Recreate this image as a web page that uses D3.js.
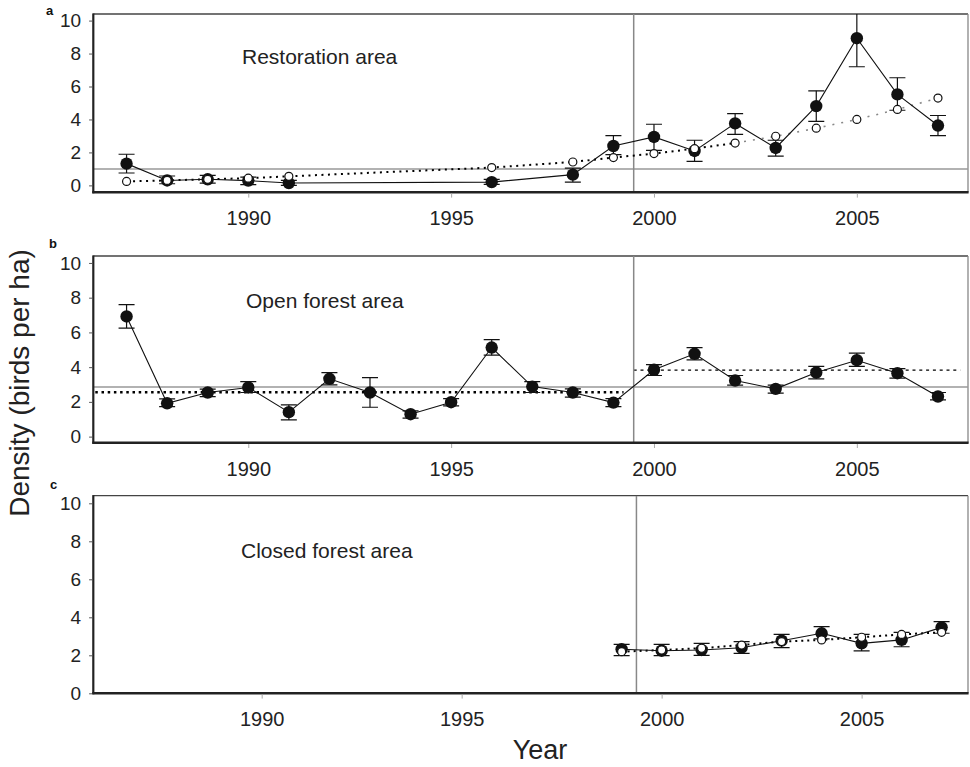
<!DOCTYPE html>
<html>
<head>
<meta charset="utf-8">
<script src="https://cdn.jsdelivr.net/npm/d3@7"></script>
<style>
  html, body { margin: 0; padding: 0; background: #fff; }
  svg { display: block; font-family: "Liberation Sans", Arial, sans-serif; }
</style>
</head>
<body>
<svg id="chart" width="970" height="767"></svg>
<script>
// ---------------- DATA ----------------
const yTickValues = [0, 2, 4, 6, 8, 10];
const xTickValues = [1990, 1995, 2000, 2005];
const panelTitles = ["Restoration area", "Open forest area", "Closed forest area"];
const panelLetters = ["a", "b", "c"];
const yAxisTitle = "Density (birds per ha)";
const xAxisTitle = "Year";
const restorationStartYear = 1999.5;

// Panel a – restoration area
const aYears = [1987, 1988, 1989, 1990, 1991, 1996, 1998, 1999, 2000, 2001, 2002, 2003, 2004, 2005, 2006, 2007];
const aMean  = [1.32, 0.30, 0.37, 0.29, 0.14, 0.20, 0.65, 2.39, 2.94, 2.09, 3.76, 2.27, 4.81, 8.93, 5.52, 3.63];
const aLow   = [0.75, 0.10, 0.14, 0.04, 0.00, 0.06, 0.20, 1.87, 2.13, 1.46, 3.10, 1.78, 3.88, 7.20, 4.56, 3.02];
const aHigh  = [1.89, 0.57, 0.61, 0.50, 0.30, 0.37, 1.05, 3.02, 3.71, 2.74, 4.36, 2.74, 5.74, 10.66, 6.53, 4.24];
const aFit   = [0.24, 0.30, 0.37, 0.44, 0.55, 1.08, 1.42, 1.69, 1.93, 2.23, 2.57, 2.98, 3.47, 4.00, 4.61, 5.30];
const aRefLine = 1.0;
const aFitSplitYear = 2002;

// Panel b – open forest area
const bYears = [1987, 1988, 1989, 1990, 1991, 1992, 1993, 1994, 1995, 1996, 1997, 1998, 1999, 2000, 2001, 2002, 2003, 2004, 2005, 2006, 2007];
const bMean  = [6.92, 1.92, 2.54, 2.83, 1.41, 3.33, 2.54, 1.29, 1.98, 5.13, 2.88, 2.54, 1.96, 3.85, 4.77, 3.23, 2.75, 3.69, 4.40, 3.65, 2.31];
const bLow   = [6.25, 1.73, 2.30, 2.54, 0.96, 2.98, 1.69, 1.06, 1.77, 4.69, 2.54, 2.27, 1.73, 3.52, 4.42, 2.96, 2.50, 3.33, 4.04, 3.37, 2.12];
const bHigh  = [7.60, 2.17, 2.74, 3.17, 1.83, 3.69, 3.40, 1.48, 2.19, 5.58, 3.17, 2.75, 2.19, 4.15, 5.13, 3.52, 2.96, 4.04, 4.81, 3.92, 2.54];
const bRefLine = 2.85;
const bPreMean = 2.55;
const bPostMean = 3.83;

// Panel c – closed forest area
const cYears = [1999, 2000, 2001, 2002, 2003, 2004, 2005, 2006, 2007];
const cMean  = [2.32, 2.24, 2.28, 2.40, 2.77, 3.16, 2.63, 2.81, 3.47];
const cLow   = [1.98, 1.98, 2.00, 2.10, 2.40, 2.86, 2.23, 2.45, 3.16];
const cHigh  = [2.58, 2.58, 2.63, 2.72, 3.10, 3.51, 3.10, 3.21, 3.77];
const cFit   = [2.19, 2.28, 2.37, 2.54, 2.72, 2.81, 2.95, 3.10, 3.21];

// ---------------- DRAW ----------------
const svg = d3.select("#chart");
const FONT = '"Liberation Sans", Arial, sans-serif';

const panels = [
  { id: "a", title: panelTitles[0], letter: panelLetters[0],
    years: aYears, mean: aMean, low: aLow, high: aHigh, fit: aFit,
    xDomain: [1986.18, 2007.74], yDomain: [-0.42, 10.4],
    left: 93.3, right: 968, top: 14, bottom: 192.3,
    titlePos: [242, 64], letterPos: [46, 15], tickLabelY: 225.5 },
  { id: "b", title: panelTitles[1], letter: panelLetters[1],
    years: bYears, mean: bMean, low: bLow, high: bHigh, fit: null,
    xDomain: [1986.18, 2007.74], yDomain: [-0.35, 10.4],
    left: 93.3, right: 968, top: 256, bottom: 442.7,
    titlePos: [246, 307.5], letterPos: [49, 247.5], tickLabelY: 475.5 },
  { id: "c", title: panelTitles[2], letter: panelLetters[2],
    years: cYears, mean: cMean, low: cLow, high: cHigh, fit: cFit,
    xDomain: [1985.79, 2007.66], yDomain: [0, 10.4],
    left: 93.3, right: 968, top: 495.7, bottom: 693.3,
    titlePos: [241, 557.5], letterPos: [50, 489], tickLabelY: 726 }
];

panels.forEach(p => {
  const x = d3.scaleLinear().domain(p.xDomain).range([p.left, p.right]);
  const y = d3.scaleLinear().domain(p.yDomain).range([p.bottom, p.top]);
  const g = svg.append("g");

  const clipId = "clip-" + p.id;
  svg.append("clipPath").attr("id", clipId)
    .append("rect").attr("x", p.left).attr("y", p.top)
    .attr("width", p.right - p.left).attr("height", p.bottom - p.top);

  // frame top & right
  g.append("line").attr("x1", p.left).attr("x2", p.right).attr("y1", p.top).attr("y2", p.top)
    .attr("stroke", "#444").attr("stroke-width", 1.3);
  g.append("line").attr("x1", p.right).attr("x2", p.right).attr("y1", p.top).attr("y2", p.bottom)
    .attr("stroke", "#888").attr("stroke-width", 1.3);

  const plot = g.append("g").attr("clip-path", `url(#${clipId})`);

  // reference horizontal line(s)
  if (p.id === "a") {
    plot.append("line").attr("x1", p.left).attr("x2", p.right)
      .attr("y1", y(aRefLine)).attr("y2", y(aRefLine))
      .attr("stroke", "#999").attr("stroke-width", 1.5);
  }
  if (p.id === "b") {
    plot.append("line").attr("x1", p.left).attr("x2", p.right)
      .attr("y1", y(bRefLine)).attr("y2", y(bRefLine))
      .attr("stroke", "#999").attr("stroke-width", 1.5);
    plot.append("line").attr("x1", p.left + 2).attr("x2", x(1999.25))
      .attr("y1", y(bPreMean)).attr("y2", y(bPreMean))
      .attr("stroke", "#000").attr("stroke-width", 2.5).attr("stroke-dasharray", "2.5,3.7");
    plot.append("line").attr("x1", x(restorationStartYear)).attr("x2", x(2007.55))
      .attr("y1", y(bPostMean)).attr("y2", y(bPostMean))
      .attr("stroke", "#000").attr("stroke-width", 1.3).attr("stroke-dasharray", "3,3.8");
  }

  // vertical restoration line
  const vx = x(p.id === "c" ? 1999.37 : restorationStartYear);
  plot.append("line").attr("x1", vx).attr("x2", vx)
    .attr("y1", p.top).attr("y2", p.bottom)
    .attr("stroke", "#888").attr("stroke-width", 1.5);

  // axes lines
  g.append("line").attr("x1", p.left).attr("x2", p.left).attr("y1", p.top - 0.6).attr("y2", p.bottom + 1)
    .attr("stroke", "#222").attr("stroke-width", 2.2);
  g.append("line").attr("x1", p.left - 1).attr("x2", p.right + 0.6).attr("y1", p.bottom).attr("y2", p.bottom)
    .attr("stroke", "#222").attr("stroke-width", 2.6);

  // y axis
  const yAxis = d3.axisLeft(y).tickValues(yTickValues).tickSize(3).tickPadding(8);
  const ya = g.append("g").attr("transform", `translate(${p.left - 1.2},0)`).call(yAxis);
  ya.select(".domain").remove();
  ya.selectAll(".tick line").attr("stroke", "#555");
  ya.selectAll(".tick text").attr("font-family", FONT).attr("font-size", 19).attr("fill", "#222");

  // x axis
  const xAxis = d3.axisBottom(x).tickValues(xTickValues).tickSize(4).tickFormat(d3.format("d"));
  const xa = g.append("g").attr("transform", `translate(0,${p.bottom + 1.3})`).call(xAxis);
  xa.select(".domain").remove();
  xa.selectAll(".tick line").attr("stroke", "#aaa");
  xa.selectAll(".tick text").attr("font-family", FONT).attr("font-size", 20).attr("fill", "#222")
    .attr("y", p.tickLabelY - p.bottom - 1.3).attr("dy", 0);

  // fit (open circle) dotted lines
  if (p.fit) {
    const pts = p.years.map((yr, i) => [yr, p.fit[i]]);
    const line = d3.line().x(d => x(d[0])).y(d => y(d[1]));
    if (p.id === "a") {
      plot.append("path").datum(pts.filter(d => d[0] <= aFitSplitYear)).attr("d", line)
        .attr("fill", "none").attr("stroke", "#000").attr("stroke-width", 2)
        .attr("stroke-dasharray", "2,4.5");
      plot.append("path").datum(pts.filter(d => d[0] >= aFitSplitYear)).attr("d", line)
        .attr("fill", "none").attr("stroke", "#888").attr("stroke-width", 1.6)
        .attr("stroke-dasharray", "2,7");
    } else {
      plot.append("path").datum(pts).attr("d", line)
        .attr("fill", "none").attr("stroke", "#000").attr("stroke-width", 2)
        .attr("stroke-dasharray", "2,4");
    }
  }

  // mean solid line
  const meanPts = p.years.map((yr, i) => [yr, p.mean[i]]);
  plot.append("path").datum(meanPts)
    .attr("d", d3.line().x(d => x(d[0])).y(d => y(d[1])))
    .attr("fill", "none").attr("stroke", "#111").attr("stroke-width", 1.1);

  // error bars
  const eb = plot.append("g").attr("stroke", "#111").attr("stroke-width", 1.2);
  p.years.forEach((yr, i) => {
    const cx = x(yr);
    eb.append("line").attr("x1", cx).attr("x2", cx).attr("y1", y(p.low[i])).attr("y2", y(p.high[i]));
    eb.append("line").attr("x1", cx - 8).attr("x2", cx + 8).attr("y1", y(p.low[i])).attr("y2", y(p.low[i]));
    eb.append("line").attr("x1", cx - 8).attr("x2", cx + 8).attr("y1", y(p.high[i])).attr("y2", y(p.high[i]));
  });

  // filled circles
  plot.selectAll("circle.mean").data(meanPts).enter().append("circle")
    .attr("class", "mean").attr("cx", d => x(d[0])).attr("cy", d => y(d[1]))
    .attr("r", 6.2).attr("fill", "#111");

  // open circles
  if (p.fit) {
    plot.selectAll("circle.fit").data(p.years.map((yr, i) => [yr, p.fit[i]])).enter().append("circle")
      .attr("class", "fit").attr("cx", d => x(d[0])).attr("cy", d => y(d[1]))
      .attr("r", 4).attr("fill", "#fff").attr("stroke", "#111").attr("stroke-width", 1.2);
  }

  // panel title & letter
  g.append("text").attr("x", p.titlePos[0]).attr("y", p.titlePos[1])
    .attr("font-family", FONT).attr("font-size", 21).attr("fill", "#222").text(p.title);
  g.append("text").attr("x", p.letterPos[0]).attr("y", p.letterPos[1])
    .attr("font-family", FONT).attr("font-size", 13).attr("font-weight", "bold").attr("fill", "#111").text(p.letter);
});

// axis titles
svg.append("text").attr("transform", "translate(29,383) rotate(-90)")
  .attr("text-anchor", "middle").attr("font-family", FONT).attr("font-size", 28).attr("fill", "#222")
  .text(yAxisTitle);
svg.append("text").attr("x", 540).attr("y", 759)
  .attr("text-anchor", "middle").attr("font-family", FONT).attr("font-size", 27).attr("fill", "#222")
  .text(xAxisTitle);
</script>
</body>
</html>
